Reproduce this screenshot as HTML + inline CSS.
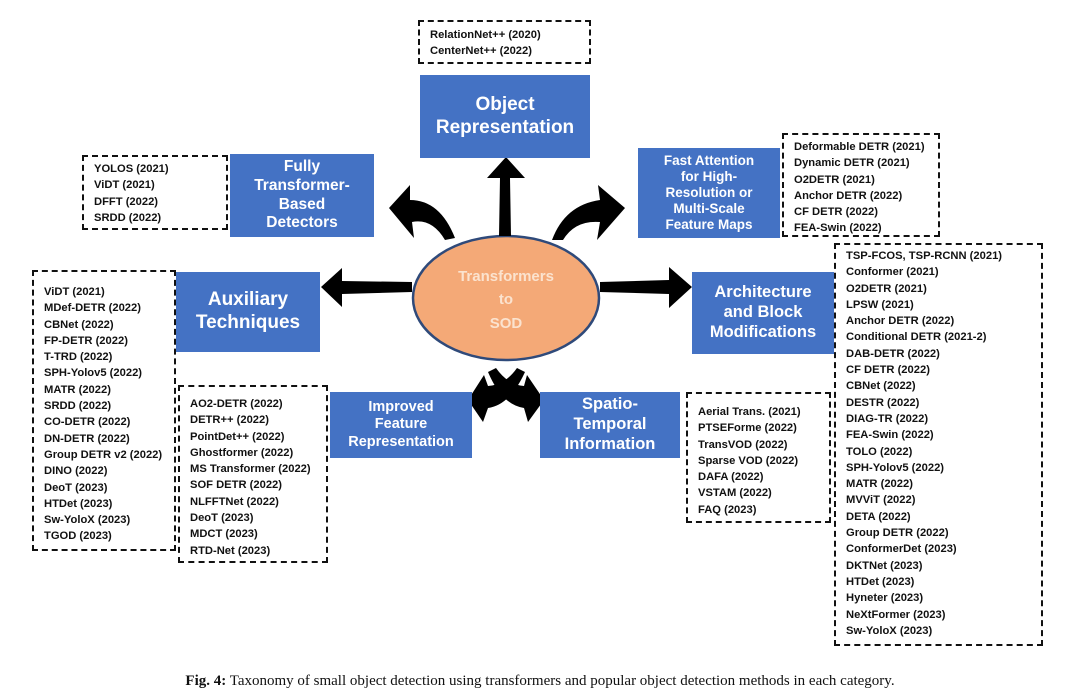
<!DOCTYPE html>
<html><head><meta charset="utf-8"><style>
body{margin:0;background:#fff;width:1080px;height:697px;position:relative;overflow:hidden;font-family:"Liberation Sans",sans-serif}
.b{position:absolute;background:#4472c4;color:#fff;font-weight:bold;text-align:center;display:flex;align-items:center;justify-content:center;line-height:1.2}
.d{position:absolute;border:2px dashed #111;border-width:2px;box-sizing:border-box;padding:4px 0 0 10px;font-weight:bold;font-size:11.2px;line-height:16.3px;color:#111;white-space:nowrap}
.cap{position:absolute;left:0;width:1080px;top:673px;text-align:center;font-family:"Liberation Serif",serif;font-size:15px;color:#111}
</style></head><body>
<svg width="1080" height="697" style="position:absolute;left:0;top:0">
<ellipse cx="506" cy="298" rx="93" ry="62" fill="#f4a977" stroke="#2f4a7a" stroke-width="2.5"/>
<text x="506" y="281" text-anchor="middle" fill="#fbe3cf" font-family="Liberation Sans" font-size="15" font-weight="600">Transformers</text>
<text x="506" y="304" text-anchor="middle" fill="#fbe3cf" font-family="Liberation Sans" font-size="15" font-weight="600">to</text>
<text x="506" y="328" text-anchor="middle" fill="#fbe3cf" font-family="Liberation Sans" font-size="15" font-weight="600">SOD</text>
<g fill="#000" stroke="none">
<polygon points="499,236 511,236 510,178 525,178 506,157 487,178 500,178"/>
<path d="M455,238 Q440,200 410,200 L410,185 L389,208 L414,238 L412,222 Q432,218 445,240 Z"/>
<path d="M552,240 Q565,205 600,200 L598,185 L625,208 L597,240 L600,222 Q575,220 563,240 Z"/>
<polygon points="412,282 412,292 342,294 342,307 321,287 342,268 342,281"/>
<polygon points="600,282 600,292 669,294 669,308 692,287 669,267 669,280"/>
<path d="M517,368 Q505,385 488,386 L484,375 L468,400 L483,422 L488,408 Q510,405 525,372 Z"/>
<path d="M496,368 Q508,385 524,386 L527,375 L544,400 L528,422 L524,408 Q502,405 488,372 Z"/>
</g>
</svg>

<div class="b" style="left:420px;top:75px;width:170px;height:83px;font-size:19px">Object<br>Representation</div>
<div class="d" style="left:418px;top:20px;width:173px;height:44px;padding-top:5px">RelationNet++ (2020)<br>CenterNet++ (2022)</div>

<div class="b" style="left:230px;top:154px;width:144px;height:83px;font-size:15.5px;line-height:1.2">Fully<br>Transformer-<br>Based<br>Detectors</div>
<div class="d" style="left:82px;top:155px;width:146px;height:75px">YOLOS (2021)<br>ViDT (2021)<br>DFFT (2022)<br>SRDD (2022)</div>

<div class="b" style="left:638px;top:148px;width:142px;height:90px;font-size:13.5px;line-height:1.2">Fast Attention<br>for High-<br>Resolution or<br>Multi-Scale<br>Feature Maps</div>
<div class="d" style="left:782px;top:133px;width:158px;height:104px">Deformable DETR (2021)<br>Dynamic DETR (2021)<br>O2DETR (2021)<br>Anchor DETR (2022)<br>CF DETR (2022)<br>FEA-Swin (2022)</div>

<div class="b" style="left:176px;top:272px;width:144px;height:80px;font-size:19px">Auxiliary<br>Techniques</div>
<div class="d" style="left:32px;top:270px;width:144px;height:281px;padding-top:12px">ViDT (2021)<br>MDef-DETR (2022)<br>CBNet (2022)<br>FP-DETR (2022)<br>T-TRD (2022)<br>SPH-Yolov5 (2022)<br>MATR (2022)<br>SRDD (2022)<br>CO-DETR (2022)<br>DN-DETR (2022)<br>Group DETR v2 (2022)<br>DINO (2022)<br>DeoT (2023)<br>HTDet (2023)<br>Sw-YoloX (2023)<br>TGOD (2023)</div>

<div class="b" style="left:692px;top:272px;width:142px;height:82px;font-size:16.5px">Architecture<br>and Block<br>Modifications</div>
<div class="d" style="left:834px;top:243px;width:209px;height:403px;padding-top:3px">TSP-FCOS, TSP-RCNN (2021)<br>Conformer (2021)<br>O2DETR (2021)<br>LPSW (2021)<br>Anchor DETR (2022)<br>Conditional DETR (2021-2)<br>DAB-DETR (2022)<br>CF DETR (2022)<br>CBNet (2022)<br>DESTR (2022)<br>DIAG-TR (2022)<br>FEA-Swin (2022)<br>TOLO (2022)<br>SPH-Yolov5 (2022)<br>MATR (2022)<br>MVViT (2022)<br>DETA (2022)<br>Group DETR (2022)<br>ConformerDet (2023)<br>DKTNet (2023)<br>HTDet (2023)<br>Hyneter (2023)<br>NeXtFormer (2023)<br>Sw-YoloX (2023)</div>

<div class="b" style="left:330px;top:392px;width:142px;height:66px;font-size:14.5px">Improved<br>Feature<br>Representation</div>
<div class="d" style="left:178px;top:385px;width:150px;height:178px;padding-top:9px">AO2-DETR (2022)<br>DETR++ (2022)<br>PointDet++ (2022)<br>Ghostformer (2022)<br>MS Transformer (2022)<br>SOF DETR (2022)<br>NLFFTNet (2022)<br>DeoT (2023)<br>MDCT (2023)<br>RTD-Net (2023)</div>

<div class="b" style="left:540px;top:392px;width:140px;height:66px;font-size:16.5px">Spatio-<br>Temporal<br>Information</div>
<div class="d" style="left:686px;top:392px;width:145px;height:131px;padding-top:10px">Aerial Trans. (2021)<br>PTSEForme (2022)<br>TransVOD (2022)<br>Sparse VOD (2022)<br>DAFA (2022)<br>VSTAM (2022)<br>FAQ (2023)</div>

<div class="cap"><b>Fig. 4:</b> Taxonomy of small object detection using transformers and popular object detection methods in each category.</div>
</body></html>
